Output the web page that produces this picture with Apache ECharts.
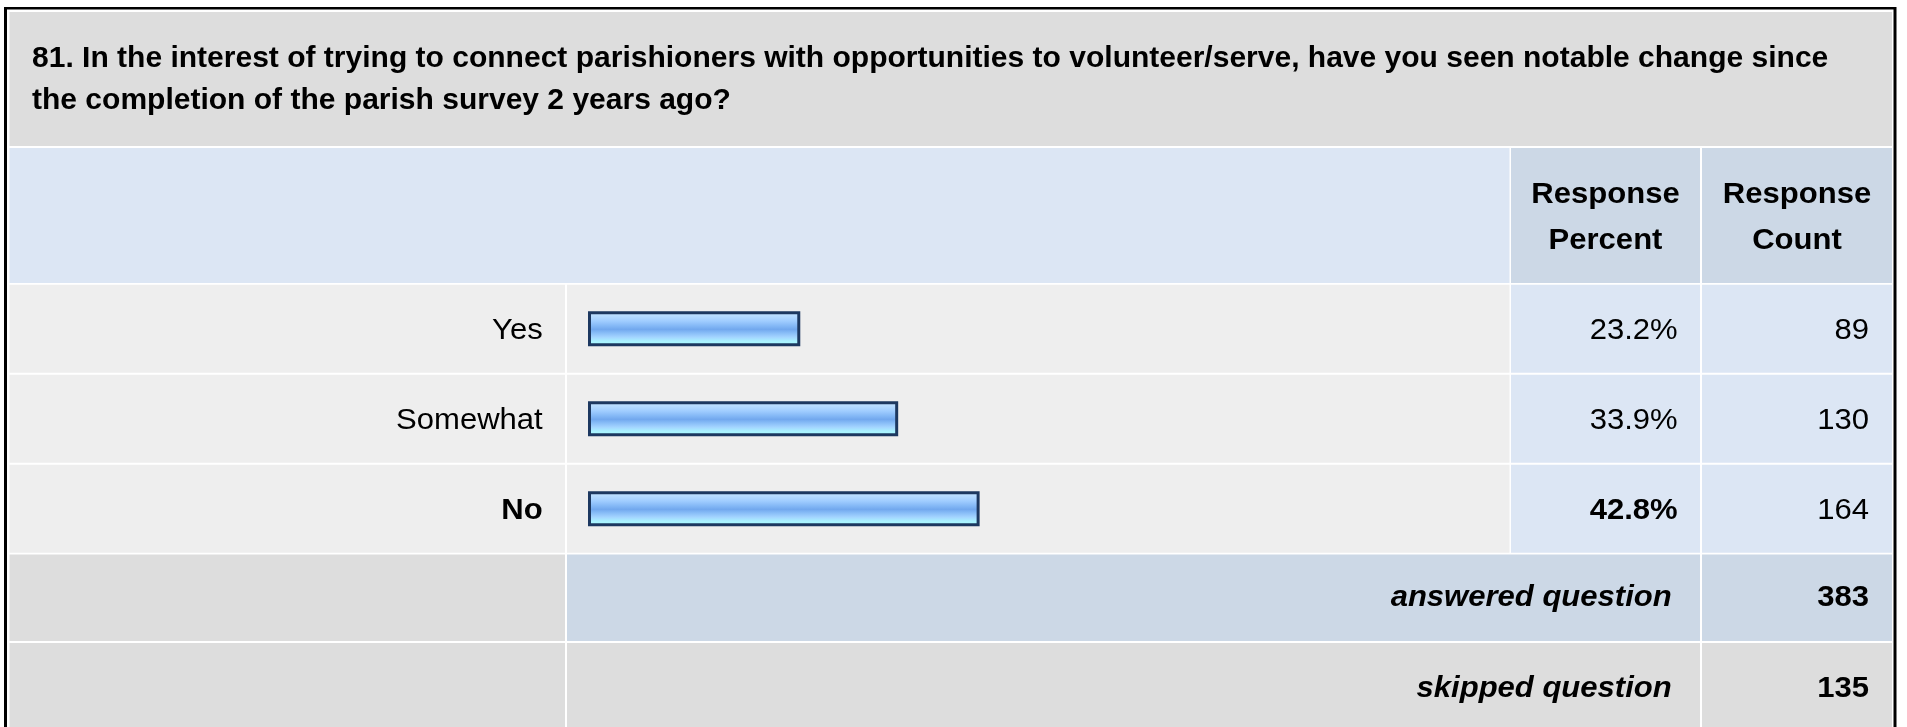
<!DOCTYPE html>
<html><head><meta charset="utf-8">
<script src="https://cdn.jsdelivr.net/npm/echarts@6/dist/echarts.min.js"></script>
<style>html,body{margin:0;padding:0;background:#fff;}#c{width:1907px;height:727px;}</style>
</head><body><div id="c"></div>
<script>
// ---- data ----
const titleLines = [
  "81. In the interest of trying to connect parishioners with opportunities to volunteer/serve, have you seen notable change since",
  "the completion of the parish survey 2 years ago?"
];
const headerLabels = ["Response\nPercent", "Response\nCount"];
const categories = ["Yes", "Somewhat", "No"];
const percents = [23.2, 33.9, 42.8];
const counts = [89, 130, 164];
const summaryLabels = ["answered question", "skipped question"];
const summaryValues = [383, 135];

// ---- layout ----
const FONT = "'Liberation Sans', Arial, Helvetica, sans-serif";
const FS = 29, SX = 1.07, TITLE_SX = 1.035;
const gridTop = 283.7, band = 90, gridLeft = 588, gridW = 915;
const col = {L0: 9.5, L1: 565, B0: 567, B1: 1509.5, P0: 1511, P1: 1700, C0: 1702, C1: 1892};
const maxIdx = percents.indexOf(Math.max.apply(null, percents));

const chart = echarts.init(document.getElementById('c'), null, {renderer: 'canvas'});
const grad = new echarts.graphic.LinearGradient(0, 0, 0, 1, [
  {offset: 0, color: '#cfe7ff'},
  {offset: 0.14, color: '#b6dbff'},
  {offset: 0.28, color: '#a0cdff'},
  {offset: 0.42, color: '#84b8f6'},
  {offset: 0.52, color: '#72a8ee'},
  {offset: 0.62, color: '#88bdf7'},
  {offset: 0.74, color: '#a3d4ff'},
  {offset: 0.86, color: '#aaf2ff'},
  {offset: 1, color: '#aaffff'}
]);
chart.setOption({
  animation: false,
  grid: {left: gridLeft, top: gridTop, width: gridW, height: band * categories.length},
  xAxis: {type: 'value', min: 0, max: 100, show: false},
  yAxis: {type: 'category', data: categories, inverse: true, show: false},
  series: [{
    type: 'bar', data: percents, barWidth: 35, z: 10, silent: true,
    itemStyle: {color: grad, borderColor: '#1d3860', borderWidth: 3}
  }]
});

const g = [];
function rect(x0, y0, x1, y1, fill, z) {
  g.push({type: 'rect', z: z || 1, silent: true, shape: {x: x0, y: y0, width: x1 - x0, height: y1 - y0}, style: {fill: fill}});
}
function text(str, x, y, align, opts) {
  opts = opts || {};
  g.push({type: 'text', z: 30, silent: true, x: x, y: y, scaleX: opts.sx || SX, style: {
    text: str, x: 0, y: 0, fill: '#000',
    fontFamily: FONT, fontSize: FS, fontWeight: opts.weight || 'normal', fontStyle: opts.style || 'normal',
    align: align, verticalAlign: 'middle', lineHeight: opts.lh || FS * 1.2
  }});
}
// frame
rect(4, 7, 1896.5, 760, '#000000', 0);
rect(7, 9.5, 1893.5, 760, '#ffffff', 0);
// title
rect(col.L0, 12, col.C1, 146, '#dddddd');
text(titleLines[0], 32, 59, 'left', {weight: 'bold', sx: TITLE_SX});
text(titleLines[1], 32, 101, 'left', {weight: 'bold', sx: TITLE_SX});
// header
rect(col.L0, 148, col.B1, 283, '#dce6f4');
rect(col.P0, 148, col.P1, 283, '#ccd8e6');
rect(col.C0, 148, col.C1, 283, '#ccd8e6');
text(headerLabels[0], (col.P0 + col.P1) / 2, 217.5, 'center', {weight: 'bold', lh: 46});
text(headerLabels[1], (col.C0 + col.C1) / 2, 217.5, 'center', {weight: 'bold', lh: 46});
// response rows
categories.forEach(function (c, i) {
  const cy = chart.convertToPixel({yAxisIndex: 0}, c);
  const y0 = cy - band / 2 + 1, y1 = cy + band / 2 - 1;
  rect(col.L0, y0, col.L1, y1, '#eeeeee');
  rect(col.B0, y0, col.B1, y1, '#eeeeee');
  rect(col.P0, y0, col.P1, y1, '#dce6f4');
  rect(col.C0, y0, col.C1, y1, '#dce6f4');
  const bold = i === maxIdx ? 'bold' : 'normal';
  text(c, 542.7, cy + 2, 'right', {weight: bold});
  text(percents[i].toFixed(1) + '%', 1677.7, cy + 2, 'right', {weight: bold});
  text(String(counts[i]), 1869, cy + 2, 'right');
});
// summary rows
const sumRows = [[554.5, 641, '#ccd8e6', '#ccd8e6'], [643, 760, '#dddddd', '#dddddd']];
summaryLabels.forEach(function (lab, i) {
  const r = sumRows[i];
  rect(col.L0, r[0], col.L1, r[1], '#dddddd');
  rect(col.B0, r[0], col.P1, r[1], r[2]);
  rect(col.C0, r[0], col.C1, r[1], r[3]);
  const cy = i === 0 ? 598 : 689;
  text(lab, 1671.7, cy, 'right', {weight: 'bold', style: 'italic'});
  text(String(summaryValues[i]), 1869, cy, 'right', {weight: 'bold'});
});
chart.setOption({graphic: {elements: g}});
</script>
</body></html>
